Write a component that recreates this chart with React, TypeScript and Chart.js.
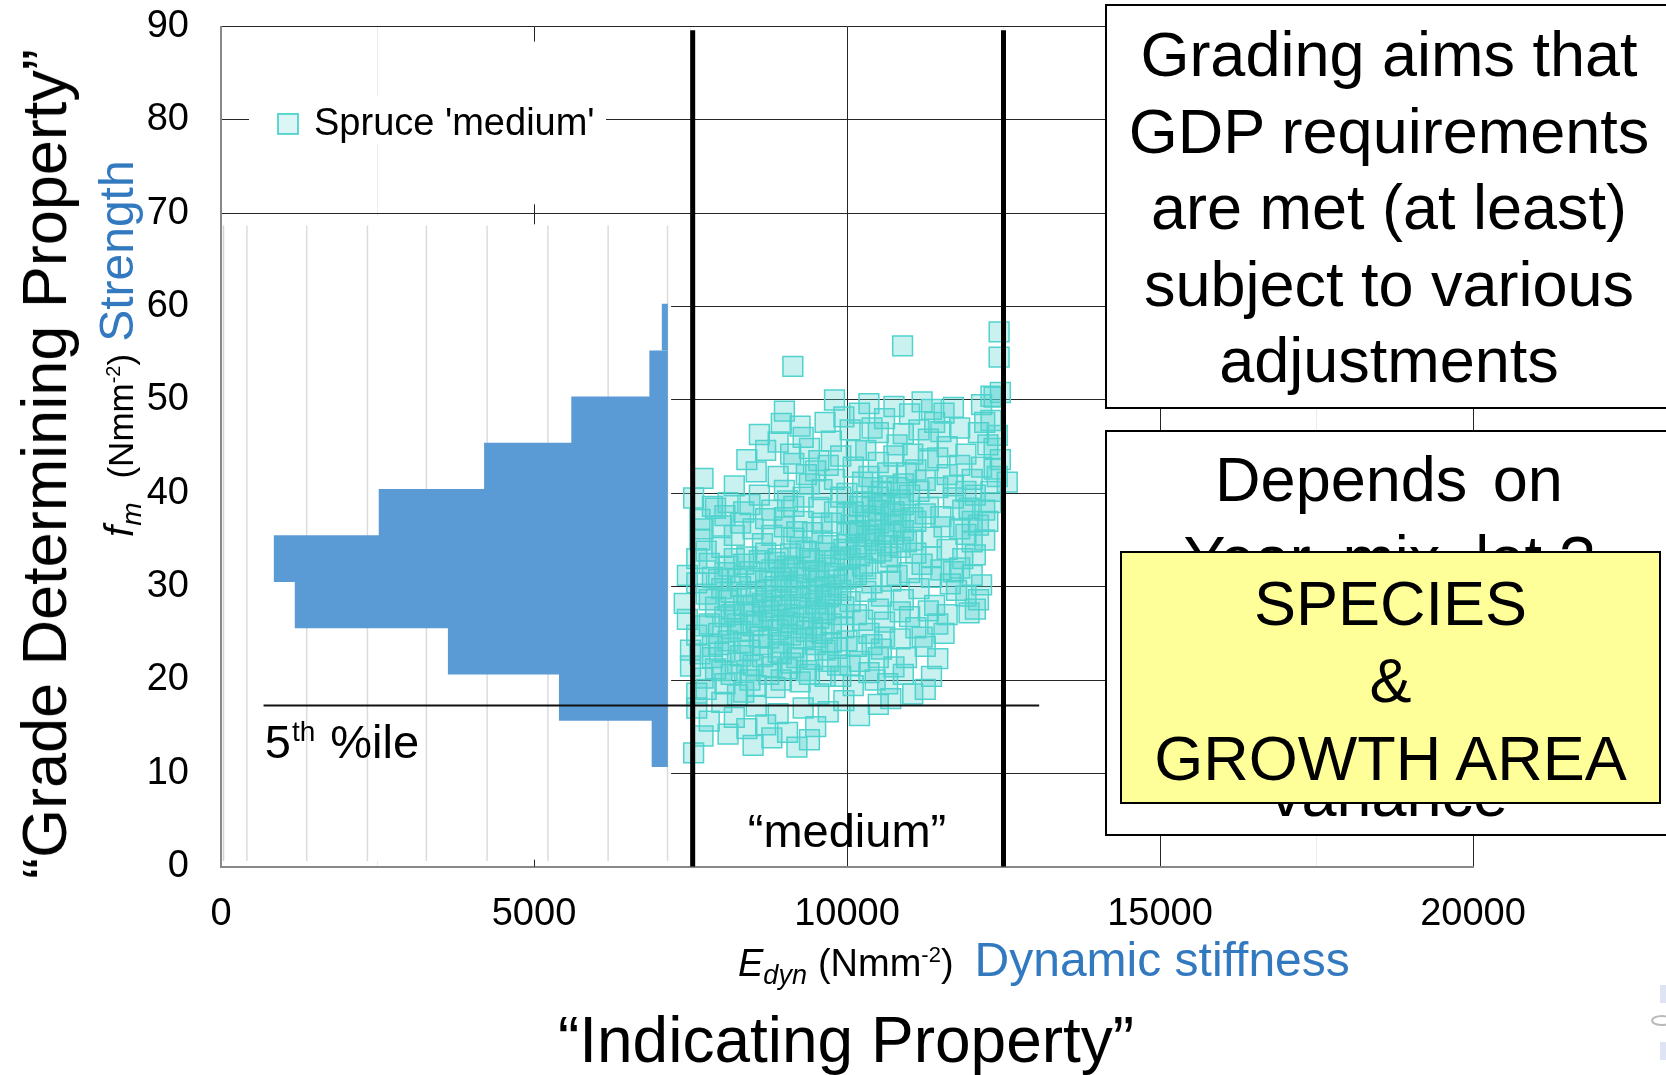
import React, { useEffect, useRef } from 'react';
import { Chart, registerables } from 'chart.js';

Chart.register(...registerables);

const FONT = "'Liberation Sans', Arial, Helvetica, sans-serif";
const HIST_BLUE = '#5B9BD5';
const TITLE_BLUE = '#3279BF';
const TEAL = 'rgb(80,211,205)';
const TEAL_FILL = 'rgba(80,211,205,0.31)';

// ---------- axes ----------
const xRange = [0, 20000];
const yRange = [0, 90];
const xTickValues = [0, 5000, 10000, 15000, 20000];
const xTickLabels = ['0', '5000', '10000', '15000', '20000'];
const yTickValues = [0, 10, 20, 30, 40, 50, 60, 70, 80, 90];
const yTickLabels = ['0', '10', '20', '30', '40', '50', '60', '70', '80', '90'];

// ---------- histogram of strength (horizontal bars, pasted picture) ----------
const histBinCenters = [13.2, 18.15, 23.1, 28.05, 33.0, 37.95, 42.9, 47.85, 52.8, 57.8];
const histBarLeft = [6885, 5404, 3630, 1184, 849, 2525, 4208, 5601, 6848, 7047];
const histBarRight = 7133;
const histCountGrid = [414, 1369, 2339, 3281, 4251, 5222, 6184, 7133];
const histFrame = { xMax: 7190, yTop: 69.7, yBottom: 0.6, gridTop: 68.7 };

// ---------- grade limits & 5th percentile ----------
const gradeBounds = [7535, 12500];
const gradeBoundTop = 89.6;
const fifthPercentile = 17.27;
const fifthLineX = [680, 13070];
const fifthLabel = { x: 700, y: 11.68 };
const mediumLabel = { x: 10000, y: 2.1, text: '“medium”' };

// ---------- Spruce 'medium' scatter: [Edyn, fm] ----------
const spruceLabel = "Spruce 'medium'";
const spruceMedium: [number, number][] = [
  [9135, 53.6], [10888, 55.8], [12430, 57.3], [12430, 54.6], [12450, 50.8], [12350, 50.3],
  [9800, 50.0], [9000, 48.8], [10350, 49.6], [10750, 49.3], [11200, 49.8], [11350, 49.0], [11550, 48.6],
  [12150, 49.5], [12300, 50.4], [9950, 48.2], [10600, 48.0], [11000, 48.5], [11700, 49.2], [10200, 48.6],
  [8600, 46.3], [8950, 47.5], [9300, 46.0], [8900, 45.5], [9400, 44.8], [9750, 45.6], [10050, 46.8],
  [10500, 46.5], [10800, 45.2], [11300, 45.8], [11500, 46.6], [11600, 45.0], [12100, 46.5], [12200, 47.6],
  [12250, 45.2], [10300, 44.6], [9100, 44.2], [11900, 44.2], [12350, 44.8], [12400, 46.2], [12300, 47.8],
  [7700, 41.6], [8400, 43.6], [8550, 42.3], [8900, 41.8], [9150, 43.2], [9350, 42.0], [9550, 43.5],
  [9800, 41.5], [10100, 42.8], [10250, 41.2], [10500, 43.3], [10650, 42.2], [10900, 41.0], [11300, 43.5],
  [11600, 42.0], [11800, 43.0], [12000, 41.5], [12150, 42.8], [12400, 41.8], [12560, 41.2], [9600, 40.4],
  [10400, 40.6], [11100, 42.5], [10750, 44.0], [8200, 40.8], [9000, 40.3], [11450, 40.6], [12300, 40.2],
  [10350, 41.8], [10950, 42.2], [12350, 42.6], [12450, 43.6], [12050, 39.8], [10000, 40.0], [10650, 40.8],
  [11150, 40.2],
  [7550, 39.5], [7900, 38.4], [8100, 39.0], [8350, 38.0], [8700, 37.3], [9050, 39.2], [9300, 37.0],
  [9550, 38.5], [9750, 36.8], [10000, 37.8], [10250, 39.0], [10500, 38.2], [10700, 36.5], [10850, 39.3],
  [11300, 38.5], [11500, 37.5], [11700, 39.5], [11950, 38.4], [12100, 36.6], [12300, 39.0], [8500, 36.2],
  [9900, 39.6], [10400, 36.0], [11100, 37.0], [8000, 36.5], [9200, 35.9], [10150, 35.8], [11800, 36.2],
  [7650, 37.2], [9800, 38.0], [10100, 36.6], [10200, 38.6], [10450, 37.2], [10500, 39.6], [10750, 38.0],
  [11250, 37.8], [12200, 38.2], [9600, 36.8], [9000, 36.4],
  [7650, 35.0], [8000, 34.2], [8200, 35.5], [8400, 33.2], [8650, 34.6], [8900, 33.0], [9150, 35.2],
  [9350, 33.8], [9600, 34.9], [9800, 32.8], [10000, 34.5], [10200, 33.3], [10450, 35.0], [10650, 32.6],
  [10850, 34.2], [11100, 33.6], [11350, 35.3], [11600, 34.0], [11850, 33.0], [12000, 34.8], [8800, 31.8],
  [9500, 31.7], [10300, 31.9], [11000, 31.5], [11700, 31.6], [7800, 32.5], [9050, 32.2], [10550, 33.8],
  [8700, 33.6], [9100, 33.5], [9450, 35.8], [9700, 32.0], [9950, 34.0], [10300, 34.6], [10600, 35.6],
  [10700, 33.2], [10900, 36.0], [11050, 35.0], [11200, 32.4], [7750, 33.8], [8200, 33.0], [8800, 35.5],
  [9250, 34.2], [9450, 32.8], [9650, 33.6], [11800, 32.0], [8350, 32.4],
  [7450, 31.2], [7600, 30.4], [7750, 29.2], [7950, 30.8], [8100, 28.5], [8300, 30.0], [8500, 28.0],
  [8700, 29.6], [8850, 27.8], [9050, 30.5], [9250, 28.8], [9450, 29.8], [9650, 27.5], [9850, 30.2],
  [10050, 28.4], [10300, 29.5], [10500, 27.6], [10700, 30.6], [10900, 28.6], [11150, 29.8], [11400, 28.0],
  [11650, 30.3], [11900, 29.0], [12050, 27.6], [7400, 28.2], [8950, 31.0], [9550, 31.2], [10150, 31.3],
  [11350, 31.0], [8200, 27.3], [9700, 28.9], [10850, 27.3], [7900, 27.8], [8050, 31.5], [8150, 29.4],
  [8450, 27.0], [8550, 30.9], [8850, 30.0], [9000, 28.0], [9200, 30.2], [9350, 31.5], [9400, 27.4],
  [9550, 29.0], [9900, 29.6], [9950, 27.8], [10050, 31.0], [10150, 27.0], [10400, 30.4], [10550, 29.0],
  [10800, 31.2], [8400, 29.2], [8650, 28.2], [12000, 31.2], [12100, 28.6], [11600, 27.0],
  [7450, 26.5], [7600, 24.8], [7800, 26.0], [7950, 23.8], [8150, 25.5], [8350, 24.0], [8550, 26.3],
  [8750, 24.5], [8950, 25.8], [9150, 23.5], [9350, 25.2], [9550, 26.6], [9750, 24.0], [9950, 25.6],
  [10150, 23.6], [10350, 25.0], [10600, 26.2], [10850, 24.4], [11100, 25.6], [11250, 23.6], [7500, 23.2],
  [8450, 23.2], [9050, 27.0], [9650, 23.2], [10550, 23.3], [8050, 26.8], [11450, 26.0], [8250, 26.0],
  [8600, 24.6], [8800, 26.4], [8950, 24.0], [9150, 26.6], [9300, 24.4], [9500, 23.8], [9750, 26.0],
  [7700, 25.8], [7850, 23.6], [8100, 24.2], [9600, 25.0], [9850, 23.4], [10250, 26.4], [10400, 23.8],
  [11000, 26.8],
  [7500, 21.5], [7700, 20.2], [7850, 22.4], [8050, 19.6], [8250, 21.8], [8450, 20.0], [8650, 22.5],
  [8850, 19.2], [9050, 21.2], [9250, 19.8], [9450, 22.2], [9650, 20.4], [9850, 21.6], [10100, 19.4],
  [10350, 20.8], [10650, 19.6], [10900, 20.6], [11050, 18.5], [11250, 19.0], [11450, 22.3], [7600, 18.6],
  [8350, 18.7], [9550, 18.5], [10500, 22.4], [8950, 22.8], [8000, 21.0], [8300, 22.6], [8500, 21.6],
  [8750, 20.6], [8900, 23.0], [9100, 21.8], [9400, 20.6], [10050, 21.6],
  [7600, 17.0], [7800, 15.6], [8000, 17.6], [8200, 16.0], [8400, 14.8], [8550, 17.2], [8700, 15.2],
  [8900, 16.4], [9050, 14.4], [9300, 17.0], [9500, 15.0], [9700, 16.6], [9950, 17.8], [10200, 16.2],
  [10500, 17.4], [10700, 18.0], [8100, 14.2], [8800, 13.8], [9400, 13.6], [7700, 14.0],
  [7550, 12.2], [8500, 13.0], [9200, 12.8],
  [7800, 28.6], [7850, 31.0], [7950, 25.0], [8000, 29.8], [8100, 32.2], [8150, 27.0], [8250, 30.8],
  [8300, 25.2], [8350, 28.0], [8450, 31.6], [8500, 25.8], [8550, 29.4], [8600, 32.8], [8650, 26.8],
  [8700, 30.6], [8750, 27.4], [8800, 29.0], [8850, 32.6], [8900, 25.4], [8950, 28.6], [9000, 31.8],
  [9050, 26.2], [9100, 29.6], [9150, 32.0], [9200, 27.8], [9250, 31.0], [9300, 26.0], [9350, 29.0],
  [9400, 33.0], [9450, 25.6], [9500, 28.2], [9550, 30.6], [9600, 27.2], [9650, 30.0], [9700, 34.4],
  [9750, 29.2], [9800, 31.4], [9850, 27.0], [9900, 33.2], [9950, 30.8], [10000, 35.8], [10050, 33.0],
  [10100, 38.0], [10150, 34.2], [10200, 36.0], [10250, 32.2], [10300, 37.6], [10350, 35.4], [10400, 39.0],
  [10450, 33.6], [10500, 36.8], [10550, 40.2], [10600, 38.8], [10650, 34.4], [10700, 37.8], [10750, 35.6],
  [10800, 40.6], [10850, 37.0], [10900, 38.8], [10950, 34.8], [11000, 39.8], [11050, 37.4],
  [7650, 22.8], [7750, 19.0], [7900, 21.2], [8050, 23.0], [8150, 20.6], [8250, 18.4], [8400, 21.0],
  [8550, 19.4], [8650, 23.8], [8800, 21.4], [8950, 20.0], [9100, 24.8], [9200, 22.4], [9350, 21.0],
  [9500, 24.6], [9700, 22.0], [9900, 20.4], [10000, 24.2], [10200, 22.0], [10450, 20.0],
  [7600, 33.0], [7700, 36.2], [7850, 38.6], [8050, 37.6], [8300, 36.8], [8450, 38.8], [8600, 39.8],
  [8800, 38.2], [9000, 37.4], [9150, 38.6], [9300, 39.6], [9400, 41.0], [9500, 42.4], [9700, 43.0],
  [9900, 44.0], [10150, 44.6], [8700, 44.6], [9250, 47.2], [9650, 47.6], [10400, 47.0], [10900, 46.4],
  [11150, 46.8], [11400, 47.6], [11800, 47.0], [11050, 44.2], [11450, 43.8], [11700, 40.8], [11900, 40.2],
  [11250, 41.4], [11850, 38.2], [11550, 36.4], [11350, 33.2], [11500, 31.8], [11750, 29.6], [11950, 27.2],
  [11550, 25.0], [11300, 27.4], [11200, 24.6], [10950, 22.4], [10750, 21.4], [10600, 24.6], [11350, 20.4],
  [12050, 33.4], [12150, 30.2], [11900, 35.6], [12200, 35.0], [12250, 37.0], [12000, 37.0],
];

const slideOverlay = {
  id: 'slideOverlay',
  beforeDatasetsDraw(chart: any) {
    const { ctx, chartArea: ca, scales } = chart;
    const xs = scales.x;
    const ys = scales.y;
    const seg = (x1: number, y1: number, x2: number, y2: number) => {
      ctx.beginPath();
      ctx.moveTo(x1, y1);
      ctx.lineTo(x2, y2);
      ctx.stroke();
    };
    ctx.save();
    // pasted histogram picture: white background with its own light grid
    const left = ca.left + 1;
    const right = xs.getPixelForValue(histFrame.xMax);
    const top = ys.getPixelForValue(histFrame.yTop);
    const bottom = ys.getPixelForValue(histFrame.yBottom);
    ctx.fillStyle = '#ffffff';
    ctx.fillRect(left, top, right - left, bottom - top);
    const gTop = ys.getPixelForValue(histFrame.gridTop);
    ctx.strokeStyle = '#dcdcdc';
    ctx.lineWidth = 1.5;
    for (const v of histCountGrid) {
      const px = xs.getPixelForValue(v);
      seg(px, gTop, px, bottom);
    }
    ctx.strokeStyle = '#d2d2d2';
    seg(ca.left + 2.5, gTop, ca.left + 2.5, bottom);
    // tick marks at 5000
    ctx.strokeStyle = '#222';
    ctx.lineWidth = 1;
    const p = Math.round(xs.getPixelForValue(5000)) + 0.5;
    const y70 = ys.getPixelForValue(70);
    seg(p, ca.top, p, ca.top + 15);
    seg(p, y70 - 9, p, y70 + 11);
    seg(p, ca.bottom - 7, p, ca.bottom);
    ctx.restore();
  },
  afterDatasetsDraw(chart: any) {
    const { ctx, chartArea: ca, scales } = chart;
    const xs = scales.x;
    const ys = scales.y;
    ctx.save();
    // legend
    const y80 = ys.getPixelForValue(80);
    ctx.fillStyle = '#ffffff';
    ctx.fillRect(ca.left + 28, y80 - 24, 357, 48);
    const mx = ca.left + 57;
    const my = y80 + 4;
    ctx.fillStyle = 'rgba(80,211,205,0.2)';
    ctx.fillRect(mx, my - 10, 20, 20);
    ctx.strokeStyle = TEAL;
    ctx.lineWidth = 1.8;
    ctx.strokeRect(mx, my - 10, 20, 20);
    ctx.fillStyle = '#000';
    ctx.font = `38px ${FONT}`;
    ctx.textBaseline = 'alphabetic';
    ctx.textAlign = 'left';
    ctx.fillText(spruceLabel, ca.left + 93, y80 + 15);
    // 5th %ile
    const fx = xs.getPixelForValue(fifthLabel.x);
    const fy = ys.getPixelForValue(fifthLabel.y);
    ctx.font = `47px ${FONT}`;
    ctx.fillText('5', fx, fy);
    const w1 = ctx.measureText('5').width;
    ctx.font = `28px ${FONT}`;
    ctx.fillText('th', fx + w1 + 1, fy - 17);
    const w2 = ctx.measureText('th').width;
    ctx.font = `47px ${FONT}`;
    ctx.fillText('%ile', fx + w1 + w2 + 16, fy);
    // "medium"
    ctx.textAlign = 'center';
    ctx.fillText(mediumLabel.text, xs.getPixelForValue(mediumLabel.x), ys.getPixelForValue(mediumLabel.y));
    ctx.restore();
  },
};

type TxtProps = {
  x: number;
  base: number;
  size: number;
  align?: 'left' | 'center';
  color?: string;
  children: React.ReactNode;
};

function Txt({ x, base, size, align = 'center', color = '#000', children }: TxtProps) {
  return (
    <div
      style={{
        position: 'absolute',
        left: x,
        top: base - 0.8465 * size,
        fontSize: size,
        lineHeight: `${size}px`,
        fontFamily: FONT,
        whiteSpace: 'pre',
        color,
        transform: align === 'center' ? 'translateX(-50%)' : undefined,
      }}
    >
      {children}
    </div>
  );
}

const boxStyle = (left: number, top: number, width: number, height: number, bg: string): React.CSSProperties => ({
  position: 'absolute',
  left,
  top,
  width,
  height,
  boxSizing: 'border-box',
  border: '2.5px solid #000',
  background: bg,
});

export default function App() {
  const ref = useRef<HTMLCanvasElement>(null);

  useEffect(() => {
    if (!ref.current) return;
    const chart = new Chart(ref.current, {
      type: 'scatter',
      data: {
        datasets: [
          {
            type: 'line',
            label: 'Grade lower limit',
            data: [{ x: gradeBounds[0], y: yRange[0] }, { x: gradeBounds[0], y: gradeBoundTop }],
            borderColor: '#000',
            borderWidth: 5,
            pointRadius: 0,
            order: 1,
          },
          {
            type: 'line',
            label: 'Grade upper limit',
            data: [{ x: gradeBounds[1], y: yRange[0] }, { x: gradeBounds[1], y: gradeBoundTop }],
            borderColor: '#000',
            borderWidth: 5,
            pointRadius: 0,
            order: 1,
          },
          {
            type: 'line',
            label: '5th percentile',
            data: [{ x: fifthLineX[0], y: fifthPercentile }, { x: fifthLineX[1], y: fifthPercentile }],
            borderColor: '#111',
            borderWidth: 2,
            pointRadius: 0,
            order: 2,
          },
          {
            type: 'scatter',
            label: spruceLabel,
            data: spruceMedium.map(([x, y]) => ({ x, y })),
            pointStyle: 'rect',
            pointRadius: 14,
            pointBorderWidth: 1.5,
            pointBackgroundColor: TEAL_FILL,
            pointBorderColor: TEAL,
            backgroundColor: TEAL_FILL,
            borderColor: TEAL,
            order: 4,
          } as any,
          {
            type: 'bar',
            label: 'Strength histogram',
            indexAxis: 'y',
            data: histBinCenters.map((c, i) => ({ x: [histBarLeft[i], histBarRight], y: c })),
            backgroundColor: HIST_BLUE,
            borderWidth: 0,
            barPercentage: 1,
            categoryPercentage: 1,
            order: 6,
          } as any,
        ],
      },
      options: {
        responsive: false,
        animation: false,
        devicePixelRatio: 1,
        layout: { padding: { left: 0, right: 193, top: 26.6, bottom: 0 } },
        plugins: {
          legend: { display: false },
          tooltip: { enabled: false },
        },
        scales: {
          x: {
            type: 'linear',
            min: xRange[0],
            max: xRange[1],
            offset: false,
            border: { display: true, color: '#888', width: 2 },
            grid: {
              offset: false,
              drawTicks: false,
              lineWidth: 1,
              color: (c: any) => {
                const v = c.tick?.value;
                if (v === 5000) return 'rgba(0,0,0,0)';
                if (v % 5000 === 0) return '#262626';
                return '#ebebeb';
              },
            },
            ticks: {
              stepSize: 2500,
              autoSkip: false,
              maxRotation: 0,
              padding: 25,
              color: '#000',
              font: { family: FONT, size: 38 },
              callback: (v: any) => {
                const i = xTickValues.indexOf(Number(v));
                return i >= 0 ? xTickLabels[i] : '';
              },
            },
            afterFit: (s: any) => {
              s.height = 1075 - 866.7;
              s.paddingLeft = 0;
              s.paddingRight = 0;
            },
          },
          y: {
            type: 'linear',
            min: yRange[0],
            max: yRange[1],
            offset: false,
            border: { display: true, color: '#888', width: 2 },
            grid: { offset: false, drawTicks: false, lineWidth: 1, color: '#262626' },
            ticks: {
              stepSize: 10,
              padding: 32,
              color: '#000',
              font: { family: FONT, size: 38 },
              callback: (v: any) => {
                const i = yTickValues.indexOf(Number(v));
                return i >= 0 ? yTickLabels[i] : '';
              },
            },
            afterFit: (s: any) => {
              s.width = 221;
              s.paddingTop = 0;
              s.paddingBottom = 0;
            },
          },
        },
      },
      plugins: [slideOverlay],
    } as any);
    return () => chart.destroy();
  }, []);

  return (
    <div
      style={{
        position: 'fixed',
        left: 0,
        top: 0,
        width: 1666,
        height: 1075,
        background: '#fff',
        overflow: 'hidden',
        fontFamily: FONT,
      }}
    >
      <canvas
        ref={ref}
        width={1666}
        height={1075}
        style={{ position: 'absolute', left: 0, top: 0, width: 1666, height: 1075 }}
      />

      {/* y axis titles (rotated) */}
      <div
        style={{
          position: 'absolute',
          left: 66 - 0.8465 * 63,
          top: 464,
          fontSize: 63,
          lineHeight: '63px',
          whiteSpace: 'pre',
          transformOrigin: '0 0',
          transform: 'rotate(-90deg) translateX(-50%)',
          color: '#000',
        }}
      >
        “Grade Determining Property”
      </div>
      <div
        style={{
          position: 'absolute',
          left: 134 - 0.8465 * 48,
          top: 537,
          fontSize: 48,
          lineHeight: '48px',
          whiteSpace: 'pre',
          transformOrigin: '0 0',
          transform: 'rotate(-90deg)',
          color: '#000',
        }}
      >
        <span style={{ fontSize: 40, fontStyle: 'italic' }}>f</span>
        <span style={{ fontSize: 28, fontStyle: 'italic', position: 'relative', top: 8 }}>m</span>
        <span style={{ fontSize: 35, marginLeft: 24 }}>(Nmm</span>
        <span style={{ fontSize: 20, position: 'relative', top: -13 }}>-2</span>
        <span style={{ fontSize: 35 }}>)</span>
        <span style={{ color: TITLE_BLUE, marginLeft: 12 }}>Strength</span>
      </div>

      {/* x axis titles */}
      <div
        style={{
          position: 'absolute',
          left: 738,
          top: 977 - 0.8465 * 48,
          fontSize: 48,
          lineHeight: '48px',
          whiteSpace: 'pre',
          color: '#000',
        }}
      >
        <span style={{ fontSize: 38, fontStyle: 'italic' }}>E</span>
        <span style={{ fontSize: 27, fontStyle: 'italic', position: 'relative', top: 8 }}>dyn</span>
        <span style={{ fontSize: 38, marginLeft: 11 }}>(Nmm</span>
        <span style={{ fontSize: 22, position: 'relative', top: -14 }}>-2</span>
        <span style={{ fontSize: 38 }}>)</span>
        <span style={{ color: TITLE_BLUE, marginLeft: 21 }}>Dynamic stiffness</span>
      </div>
      <Txt x={846} base={1062} size={64}>
        “Indicating Property”
      </Txt>

      {/* text box 1 */}
      <div style={boxStyle(1105, 4, 568, 405, '#fff')} />
      <Txt x={1389} base={76.5} size={63}>Grading aims that</Txt>
      <Txt x={1389} base={153} size={63}>GDP requirements</Txt>
      <Txt x={1389} base={229.5} size={63}>are met (at least)</Txt>
      <Txt x={1389} base={306} size={63}>subject to various</Txt>
      <Txt x={1389} base={382.5} size={63}>adjustments</Txt>

      {/* text box 2 */}
      <div style={boxStyle(1105, 430, 568, 406, '#fff')} />
      <Txt x={1389} base={501.5} size={63}>
        <span style={{ wordSpacing: 8 }}>Depends on</span>
      </Txt>
      <Txt x={1389} base={580} size={63}>Year, mix, lot ?</Txt>
      <Txt x={1389} base={816} size={63}>variance</Txt>

      {/* yellow box */}
      <div style={boxStyle(1120, 551, 541, 253, '#FFFF99')} />
      <Txt x={1390.5} base={625} size={63}>SPECIES</Txt>
      <Txt x={1390.5} base={702} size={63}>&amp;</Txt>
      <Txt x={1390.5} base={780} size={63}>GROWTH AREA</Txt>

      {/* slide corner artefacts */}
      <div style={{ position: 'absolute', left: 1660, top: 985, width: 8, height: 18, background: '#dfe4f4' }} />
      <div
        style={{
          position: 'absolute',
          left: 1651,
          top: 1015,
          width: 22,
          height: 11,
          borderRadius: '50%',
          border: '2px solid #b9b9b9',
          boxSizing: 'border-box',
        }}
      />
      <div style={{ position: 'absolute', left: 1660, top: 1042, width: 8, height: 18, background: '#dfe4f4' }} />
    </div>
  );
}
